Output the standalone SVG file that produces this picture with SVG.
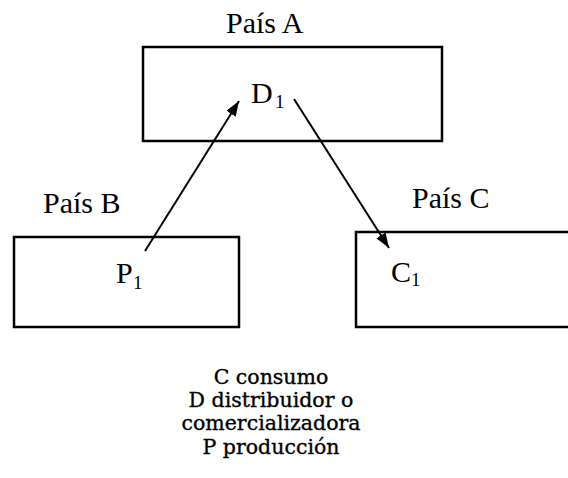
<svg xmlns="http://www.w3.org/2000/svg" width="568" height="478" viewBox="0 0 568 478">
<style>
.box{fill:none;stroke:#000;stroke-width:2.5}
.lbl{font-family:"Liberation Serif",serif;font-size:30px;fill:#000}
.sym{font-family:"Liberation Serif",serif;font-size:30px;fill:#000}
.sub{font-family:"Liberation Serif",serif;font-size:19px;fill:#000}
.leg{font-family:"DejaVu Serif",serif;font-size:20.5px;fill:#000;stroke:#000;stroke-width:0.35;text-anchor:middle}
.arr{stroke:#000;stroke-width:2;fill:none;marker-end:url(#ah)}
</style>
<defs>
<marker id="ah" markerUnits="userSpaceOnUse" markerWidth="15" markerHeight="11" refX="15" refY="5.5" orient="auto">
<path d="M0,0 L15,5.5 L0,11 z" fill="#000"/>
</marker>
</defs>
<rect width="568" height="478" fill="#fff"/>
<g id="paisA">
<text class="lbl" x="226" y="33">País A</text>
<rect class="box" x="143" y="47" width="299" height="94"/>
<text class="sym" x="251" y="103">D</text><text class="sub" x="275" y="108">1</text>
</g>
<g id="paisB">
<text class="lbl" x="43" y="213">País B</text>
<rect class="box" x="14" y="237" width="225" height="90"/>
<text class="sym" x="116" y="283">P</text><text class="sub" x="133" y="289">1</text>
</g>
<g id="paisC">
<text class="lbl" x="412" y="208">País C</text>
<path class="box" d="M575,232 H356 V327 H575"/>
<text class="sym" x="391" y="282">C</text><text class="sub" x="411" y="286">1</text>
</g>
<g id="connectors">
<line class="arr" x1="145" y1="251" x2="239" y2="101"/>
<line class="arr" x1="294" y1="99" x2="389" y2="248"/>
</g>
<g id="legend">
<text class="leg" x="271" y="384">C consumo</text>
<text class="leg" x="271" y="407">D distribuidor o</text>
<text class="leg" x="271" y="430">comercializadora</text>
<text class="leg" x="271" y="454">P producción</text>
</g>
</svg>
